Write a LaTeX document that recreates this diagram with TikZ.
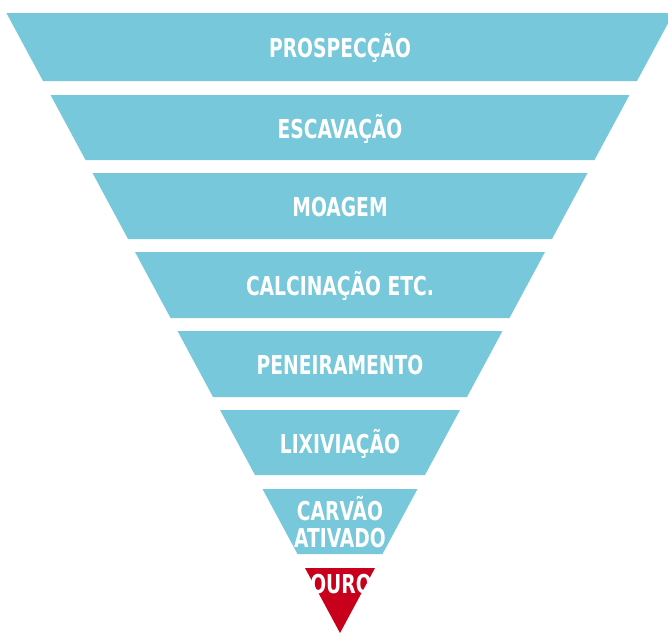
\documentclass[tikz,border=0pt]{standalone}
\usepackage{fontspec}
\setmainfont{DejaVu Sans Condensed}[BoldFont={DejaVu Sans Condensed Bold},FakeStretch=0.8]
\definecolor{azulfunil}{RGB}{118,200,218}
\definecolor{vermelhoouro}{RGB}{200,0,28}
\tikzset{
  faixa/.style={fill=azulfunil},
  ponta/.style={fill=vermelhoouro},
  rotulo/.style={text=white,font=\fontsize{26}{27}\selectfont\bfseries,align=center,inner sep=0pt}
}
\begin{document}
\begin{tikzpicture}[x=1pt,y=-1pt]
    % Frame of the picture
    \useasboundingbox (0,0) rectangle (668,633);
    % Bands of the funnel
    \foreach \topo/\base/\nome/\texto in {
        13/81/prospeccao/{PROSPECÇÃO},
        95/160/escavacao/{ESCAVAÇÃO},
        173/239/moagem/{MOAGEM},
        252/318/calcinacao/{CALCINAÇÃO ETC.},
        331/397/peneiramento/{PENEIRAMENTO},
        410/475/lixiviacao/{LIXIVIAÇÃO},
        489/554/carvao/{CARVÃO\\ATIVADO}} {
      \fill[faixa] ({340-0.538*(633-\topo)},\topo) -- ({340+0.538*(633-\topo)},\topo)
        -- ({340+0.538*(633-\base)},\base) -- ({340-0.538*(633-\base)},\base) -- cycle;
      \node[rotulo] (\nome) at (340,{(\topo+\base)/2+1}) {\texto};
    }
    % Tip of the funnel
    \fill[ponta] ({340-0.538*65},568) -- ({340+0.538*65},568) -- (340,633) -- cycle;
    \node[rotulo] (ouro) at (341,584) {OURO};
\end{tikzpicture}
\end{document}
